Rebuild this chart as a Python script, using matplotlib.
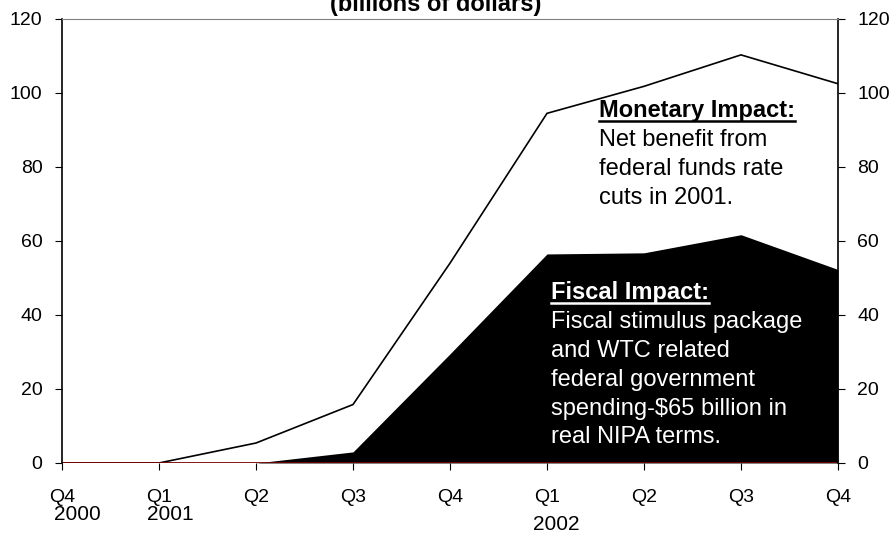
import matplotlib.pyplot as plt
from matplotlib.lines import Line2D

plt.rcParams['font.family'] = ['Liberation Sans', 'DejaVu Sans']

quarters = ["Q4", "Q1", "Q2", "Q3", "Q4", "Q1", "Q2", "Q3", "Q4"]
years = [(0, "2000"), (1, "2001"), (5, "2002")]
total_impact = [0, 0, 5.4, 15.8, 54.0, 94.5, 101.8, 110.3, 102.5]
fiscal_impact = [0, 0, 0, 3.0, 29.5, 56.5, 56.8, 61.7, 52.3]

fig = plt.figure(figsize=(8.91, 5.35), dpi=100)
ax = fig.add_axes([0.0696, 0.1346, 0.8709, 0.8299])

x = list(range(len(quarters)))
ax.fill_between(x, 0, fiscal_impact, color="black", linewidth=0)
ax.plot(x, total_impact, color="black", linewidth=1.2)
ax.axhline(0, color="#7a0000", linewidth=2)

ax.set_xlim(0, 8)
ax.set_ylim(0, 120)
ax.set_yticks(range(0, 121, 20))
ax.set_xticks(x)
ax.set_xticklabels(quarters)
ax.tick_params(axis="y", which="both", left=True, right=True, labelleft=True,
               labelright=True, direction="out", length=5, labelsize=14, pad=9)
ax.tick_params(axis="x", direction="out", length=5, labelsize=14, pad=14)

ax.spines["top"].set_color("#808080")
ax.spines["bottom"].set_visible(False)
for side in ("left", "right"):
    ax.spines[side].set_linewidth(1.2)

# year labels sit under the first quarter of each year
xt = ax.get_xaxis_transform()
year_offsets = {"2000": (0.16, -0.117), "2001": (0.12, -0.117), "2002": (0.10, -0.1385)}
for pos, yr in years:
    dx, dy = year_offsets[yr]
    ax.text(pos + dx, dy, yr, transform=xt, ha="center", va="center", fontsize=15)

fig.text(0.489, 0.979, "(billions of dollars)", ha="center", va="baseline",
         fontsize=17, fontweight="bold")

# annotation blocks: underlined bold heading followed by plain lines
STEP = 7.8  # line spacing in data units


def note(x0, y0, head, lines, color):
    h = ax.text(x0, y0, head, ha="left", va="baseline", fontsize=17,
                fontweight="bold", color=color)
    for i, line in enumerate(lines):
        ax.text(x0, y0 - STEP * (i + 1), line, ha="left", va="baseline",
                fontsize=17, color=color)
    return h


mon = note(5.54, 93.5, "Monetary Impact:",
           ["Net benefit from", "federal funds rate", "cuts in 2001."], "black")
fis = note(5.04, 44.3, "Fiscal Impact:",
           ["Fiscal stimulus package", "and WTC related", "federal government",
            "spending-$65 billion in", "real NIPA terms."], "white")

fig.canvas.draw()
renderer = fig.canvas.get_renderer()
inv = fig.transFigure.inverted()
for t, c in ((mon, "black"), (fis, "white")):
    bb = t.get_window_extent(renderer)
    (x0, y0), (x1, _) = inv.transform([(bb.x0, bb.y0), (bb.x1, bb.y0)])
    yl = y0 + 1.0 / 535
    fig.add_artist(Line2D([x0, x1], [yl, yl], color=c,
                          linewidth=1.8, transform=fig.transFigure))

fig.savefig("out.png", dpi=100)
